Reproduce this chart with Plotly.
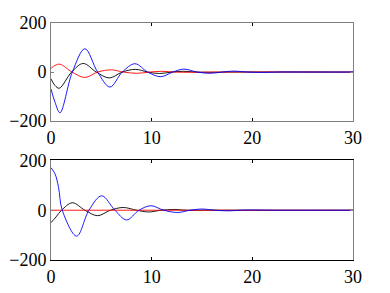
import plotly.graph_objects as go

# ---- data ----
top_blue_x = [0, 0.4, 0.89, 2.12, 3.37, 4.63, 5.86, 7.08, 8.34, 9.6, 10.9, 12.1, 13.2, 14.5, 15.8, 17.0, 18.2, 19.5, 21, 23, 25, 27, 30]
top_blue_y = [-69, -123, -166, 0, 95, 0, -61, 0, 34, 0, -19, 0, 12, 0, -5, 0, 4, 0, -1.5, 0.5, 0, 0, 0]

top_black_x = [0, 0.4, 0.82, 2.05, 3.2, 4.5, 5.8, 7.08, 8.4, 9.6, 10.8, 12.0, 13.2, 14.4, 15.6, 18, 30]
top_black_y = [-28, -55, -66, 0, 35, 0, -24, 0, 11, 0, -6, 0, 3, 0, -1, 0, 0]

top_red_x = [0, 0.4, 0.89, 2.1, 3.37, 4.63, 6.0, 7.2, 8.6, 9.8, 11.0, 12.3, 13.4, 16, 30]
top_red_y = [15, 27, 32, 0, -22, 0, 9, 0, -5, 0, 3, 0, -1, 0, 0]

bot_blue_x = [0, 0.4, 0.75, 1.12, 2.55, 3.77, 5.03, 6.35, 7.51, 8.74, 9.93, 11.2, 12.6, 13.8, 15.0, 16.3, 17.6, 18.8, 20, 22, 25, 30]
bot_blue_y = [171, 146, 92, 0, -104, 0, 58, 0, -39, 0, 18, 0, -9, 0, 5, 0, -2.5, 0, 1, 0, 0, 0]

bot_black_x = [0, 0.5, 1.05, 2.12, 3.37, 4.63, 5.9, 7.18, 8.5, 9.7, 10.95, 12.2, 13.5, 16, 30]
bot_black_y = [-50, -27, 0, 30, 0, -22, 0, 11, 0, -7, 0, 3, 0, 0, 0]

bot_red_x = [0, 30]
bot_red_y = [0, 0]

x_ticks = [0, 10, 20, 30]
y_ticks = [-200, 0, 200]

FONT = dict(family="Liberation Serif", size=18, color="black")
GREY = "#7f7f7f"

fig = go.Figure()

def add(x, y, color, axes):
    fig.add_trace(go.Scatter(x=x, y=y, mode="lines", line=dict(color=color, width=0.9, shape="spline", smoothing=1.0),
                             xaxis=axes[0], yaxis=axes[1], showlegend=False, hoverinfo="skip"))

add(top_black_x, top_black_y, "black", ("x", "y"))
add(top_red_x, top_red_y, "red", ("x", "y"))
add(top_blue_x, top_blue_y, "blue", ("x", "y"))
add(bot_black_x, bot_black_y, "black", ("x2", "y2"))
add(bot_red_x, bot_red_y, "red", ("x2", "y2"))
add(bot_blue_x, bot_blue_y, "blue", ("x2", "y2"))

xcommon = dict(range=[0, 30], tickvals=x_ticks, ticks="inside", ticklen=3, tickcolor="black",
               mirror="ticks", showline=True, linewidth=1, showgrid=False, zeroline=False,
               tickfont=FONT, fixedrange=True, automargin=False)
ycommon = dict(range=[-200, 200], tickvals=y_ticks, ticks="inside", ticklen=3, tickcolor=GREY,
               mirror="ticks", showline=True, linecolor=GREY, linewidth=1, showgrid=False, zeroline=False,
               tickfont=FONT, fixedrange=True, automargin=False)

fig.update_layout(
    width=390, height=293,
    margin=dict(l=51, r=37, t=23, b=33),
    font=FONT,
    paper_bgcolor="white", plot_bgcolor="white",
    xaxis=dict(domain=[0, 1], anchor="y", linecolor=GREY, **xcommon),
    yaxis=dict(domain=[0.586, 1.0], anchor="x", **ycommon),
    xaxis2=dict(domain=[0, 1], anchor="y2", linecolor="black", **xcommon),
    yaxis2=dict(domain=[0.0, 0.42], anchor="x2", **ycommon),
)

fig.write_html("out.html", config={"displayModeBar": False},
               post_script="document.body.style.margin='0';document.body.style.overflow='hidden';")
